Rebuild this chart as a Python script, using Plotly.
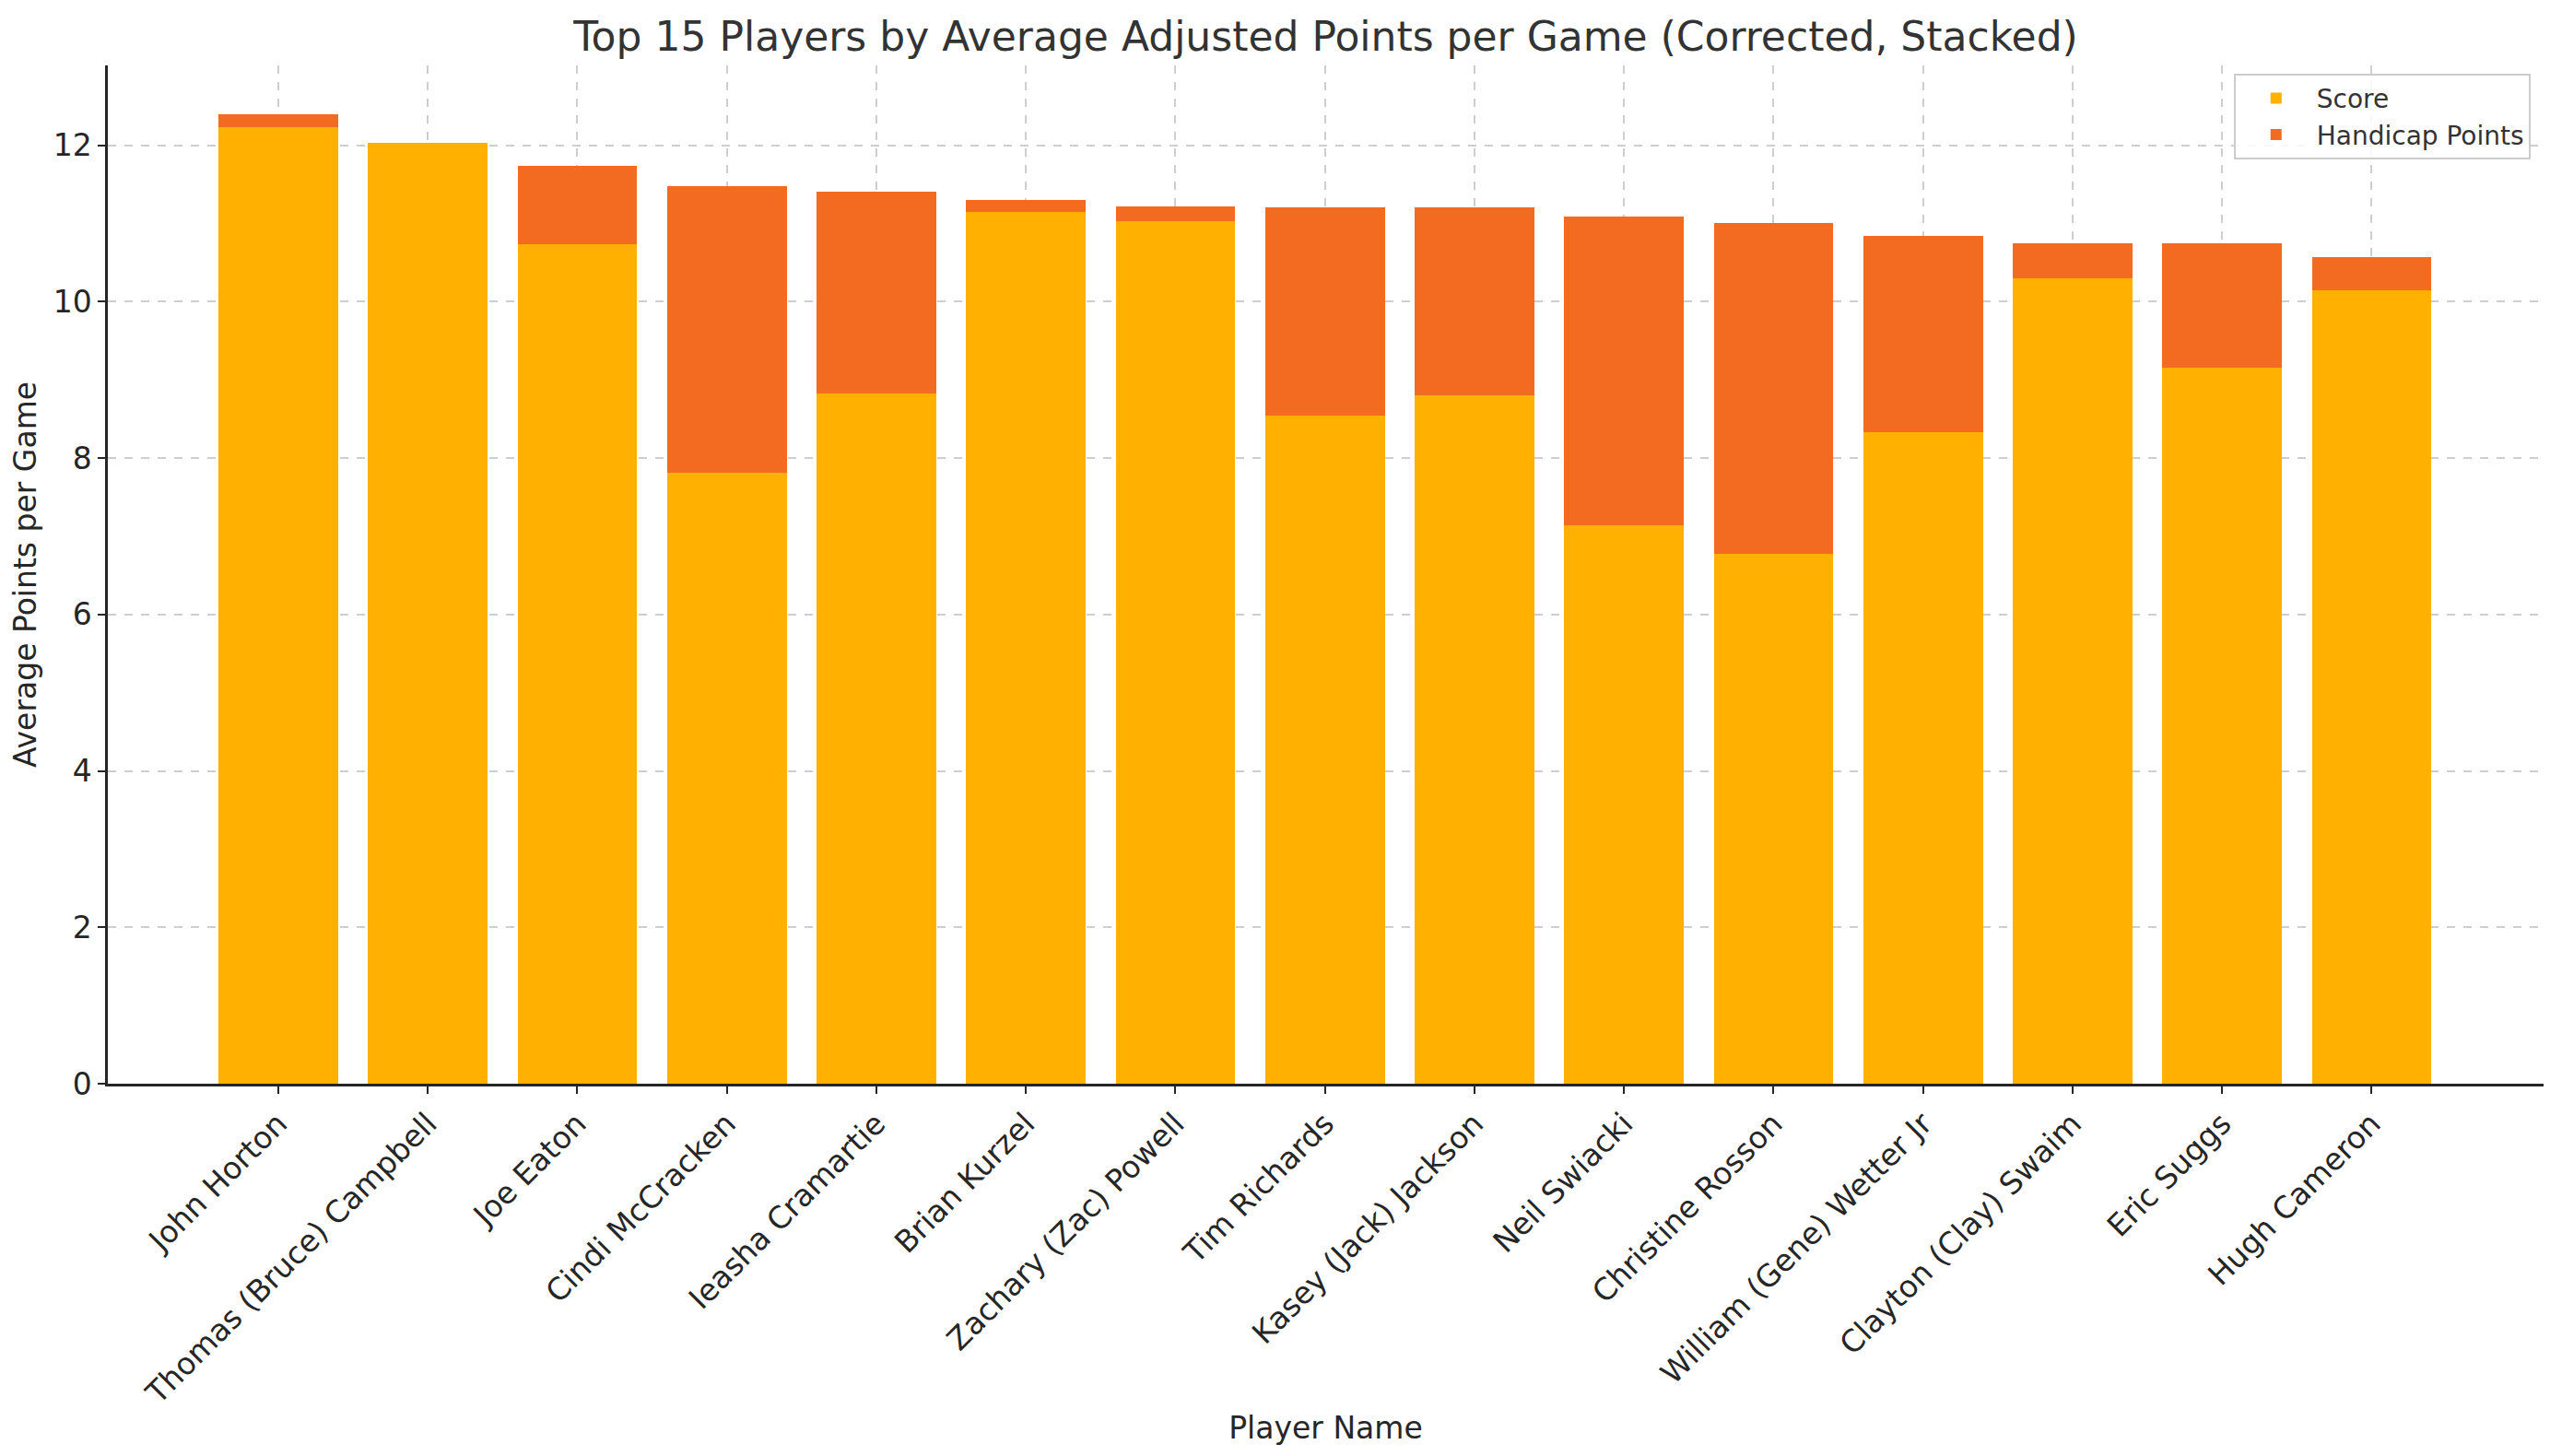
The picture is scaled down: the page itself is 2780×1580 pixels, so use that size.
import plotly.graph_objects as go

players = ["John Horton", "Thomas (Bruce) Campbell", "Joe Eaton", "Cindi McCracken",
           "Ieasha Cramartie", "Brian Kurzel", "Zachary (Zac) Powell", "Tim Richards",
           "Kasey (Jack) Jackson", "Neil Swiacki", "Christine Rosson",
           "William (Gene) Wetter Jr", "Clayton (Clay) Swaim", "Eric Suggs", "Hugh Cameron"]
score = [12.23, 12.03, 10.73, 7.81, 8.82, 11.15, 11.03, 8.54, 8.80, 7.14, 6.77, 8.33, 10.30, 9.15, 10.15]
handicap = [0.17, 0.0, 1.00, 3.67, 2.58, 0.15, 0.19, 2.67, 2.40, 3.95, 4.23, 2.51, 0.45, 1.60, 0.42]
y_ticks = [0, 2, 4, 6, 8, 10, 12]

FONT = "DejaVu Sans"
GRID = "rgba(190,190,190,0.75)"

fig = go.Figure()
fig.add_trace(go.Bar(x=players, y=score, name="Score", marker_color="#FFB000",
                     marker_line_width=0, width=0.8))
fig.add_trace(go.Bar(x=players, y=handicap, name="Handicap Points", marker_color="#F26B21",
                     marker_line_width=0, width=0.8))
# invisible trace to carry the overlay axes that draw gridlines above bars
fig.add_trace(go.Scatter(x=players, y=score, xaxis="x2", yaxis="y2", mode="markers",
                         marker=dict(opacity=0), hoverinfo="skip", showlegend=False))

fig.update_layout(
    width=2780, height=1580,
    barmode="stack", bargap=0.2,
    plot_bgcolor="white", paper_bgcolor="white",
    margin=dict(l=109, r=28, t=63, b=412),
    font=dict(family=FONT, color="#262626"),
    title=dict(text="Top 15 Players by Average Adjusted Points per Game (Corrected, Stacked)",
               x=0.5, xref="paper", xanchor="center", y=0.980, yanchor="middle",
               font=dict(size=44, family=FONT, color="#333333")),
    xaxis=dict(range=[-1.14, 15.15], showgrid=False, showline=True, linecolor="#262626",
               linewidth=2.5, ticks="outside", ticklen=8, tickwidth=2, tickcolor="#262626",
               tickangle=-45, tickfont=dict(size=33, family=FONT, color="#262626"),
               title=dict(text="Player Name", font=dict(size=33, family=FONT, color="#262626"),
                          standoff=8),
               zeroline=False),
    yaxis=dict(range=[0, 13.02], tickvals=y_ticks, showgrid=False, showline=True,
               linecolor="#262626", linewidth=2.5, ticks="outside", ticklen=8, tickwidth=2,
               tickcolor="#262626", tickfont=dict(size=33, family=FONT, color="#262626"),
               title=dict(text="Average Points per Game",
                          font=dict(size=33, family=FONT, color="#262626"), standoff=12),
               zeroline=False),
    xaxis2=dict(overlaying="x", matches="x", showgrid=True, gridcolor=GRID, griddash="dash",
                gridwidth=1.5, showticklabels=False, ticks="", showline=False, zeroline=False),
    yaxis2=dict(overlaying="y", matches="y", tickvals=y_ticks, showgrid=True, gridcolor=GRID,
                griddash="dash", gridwidth=1.5, showticklabels=False, ticks="",
                showline=False, zeroline=False),
    legend=dict(x=0.9946, y=0.992, xanchor="right", yanchor="top", traceorder="normal",
                bordercolor="#cccccc", borderwidth=2, bgcolor="rgba(255,255,255,0.85)",
                font=dict(size=28, family=FONT, color="#333333"),
                itemwidth=78, tracegroupgap=6),
    showlegend=True,
)

fig.write_html("out.html")
